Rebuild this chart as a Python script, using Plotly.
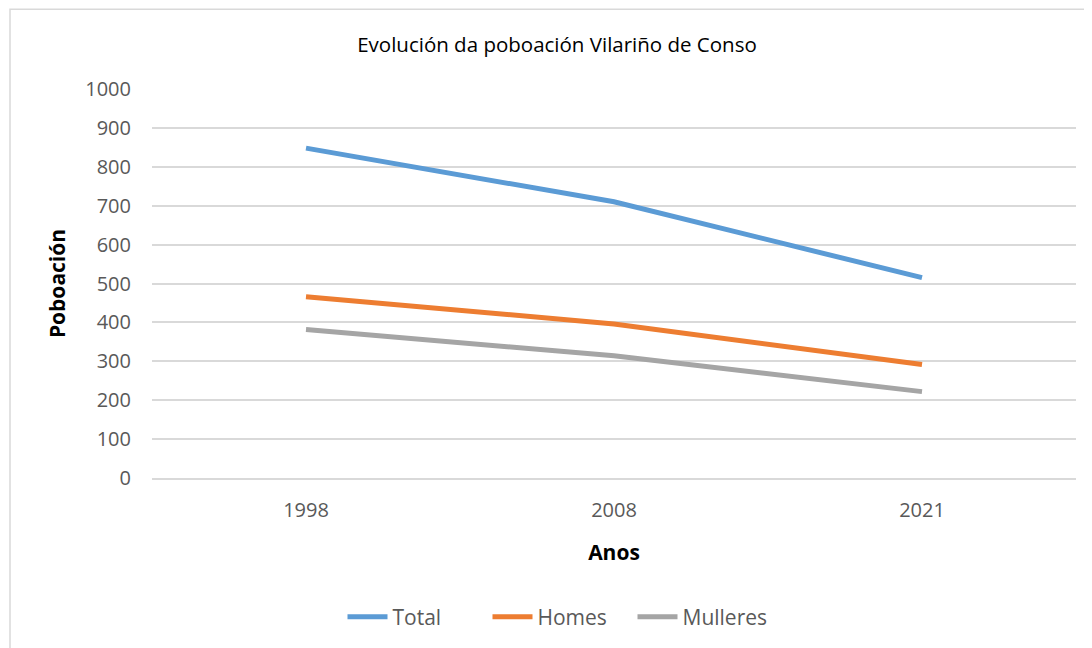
import plotly.graph_objects as go

years = ["1998", "2008", "2021"]
total = [848, 710, 515]
homes = [466, 396, 292]
mulleres = [382, 314, 222]

series = [("Total", total, "#5B9BD5"), ("Homes", homes, "#ED7D31"), ("Mulleres", mulleres, "#A5A5A5")]

fig = go.Figure()
for name, vals, col in series:
    fig.add_trace(go.Scatter(x=years, y=vals, name=name, mode="lines",
                             line=dict(color=col, width=5)))

# page body has an 8px margin, so positions are shifted by -8 px
off = 8
font_family = "Open Sans, Liberation Sans, sans-serif"
fig.update_layout(
    width=1092, height=648,
    margin=dict(l=152 - off, r=16 + off, t=89 - off, b=170 + off),
    paper_bgcolor="white", plot_bgcolor="white",
    font=dict(family=font_family, color="#595959"),
    title=dict(text="Evolución da poboación Vilariño de Conso", x=(557 - off) / 1092, xanchor="center",
               y=1 - (45 - off) / 648, yanchor="middle", font=dict(size=20.5, color="#000000", family=font_family)),
    showlegend=True,
    legend=dict(orientation="h", x=(560 - off) / 1092, xref="container", xanchor="center",
                y=1 - (617 - off) / 648, yref="container", yanchor="middle",
                font=dict(size=21, color="#595959"), itemwidth=40, entrywidth=90,
                traceorder="normal"),
    xaxis=dict(type="category", range=[-0.5, 2.5], showgrid=False, showline=True,
               linecolor="#D9D9D9", linewidth=1.5, ticks="", tickfont=dict(size=20),
               ticklabelstandoff=13,
               title=dict(text="<b>Anos</b>", font=dict(size=21, color="#000000"), standoff=24)),
    yaxis=dict(range=[0, 1000], dtick=100, showgrid=True, gridcolor="#D9D9D9", gridwidth=1.5,
               zeroline=True, zerolinecolor="#D9D9D9", zerolinewidth=1.5, showline=False,
               ticks="", tickfont=dict(size=20), ticklabelstandoff=20,
               title=dict(text="<b>Poboación</b>", font=dict(size=21, color="#000000"), standoff=13)),
    shapes=[dict(type="rect", xref="paper", yref="paper",
                 x0=(10 - 152) / 924, x1=1.2, y0=-0.6, y1=(477.5 - 10) / 388,
                 line=dict(color="#D9D9D9", width=1.5), fillcolor="rgba(0,0,0,0)", layer="below")],
)

fig.write_html("out.html")
